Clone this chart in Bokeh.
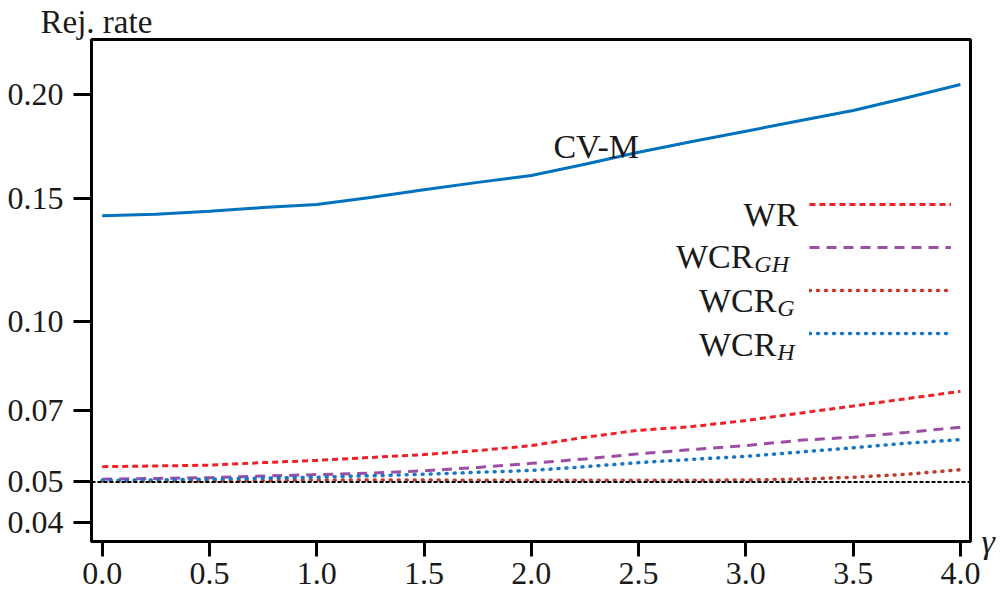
import numpy as np
from bokeh.plotting import figure
from bokeh.models import (Range1d, FixedTicker, CustomJSTickFormatter, PrintfTickFormatter,
                          Label, Legend, LegendItem, Span, LinearAxis)
from bokeh.embed import file_html
from bokeh.resources import INLINE

# ---------------- data ----------------
gamma = [0.0, 0.25, 0.5, 0.75, 1.0, 1.25, 1.5, 1.75, 2.0, 2.25, 2.5, 2.75, 3.0, 3.25, 3.5, 3.75, 4.0]
cvm = [0.1423, 0.1430, 0.1443, 0.1459, 0.1472, 0.1504, 0.1538, 0.1572, 0.1604, 0.1656,
       0.1713, 0.1765, 0.1815, 0.1867, 0.1918, 0.1983, 0.2052]
wr = [0.0540, 0.0542, 0.0544, 0.0551, 0.0557, 0.0565, 0.0573, 0.0584, 0.0598, 0.0622,
      0.0642, 0.0653, 0.0671, 0.0693, 0.0715, 0.0738, 0.0761]
wcr_gh = [0.0507, 0.0509, 0.0511, 0.0515, 0.0519, 0.0523, 0.0529, 0.0538, 0.0549, 0.0561,
          0.0575, 0.0587, 0.0598, 0.0613, 0.0622, 0.0636, 0.0651]
wcr_g = [0.0502, 0.0502, 0.0502, 0.0503, 0.0505, 0.0505, 0.0505, 0.0504, 0.0504, 0.0504,
         0.0504, 0.0504, 0.0505, 0.0507, 0.0512, 0.0520, 0.0532]
wcr_h = [0.0504, 0.0505, 0.0507, 0.0510, 0.0512, 0.0516, 0.0520, 0.0525, 0.0530, 0.0540,
         0.0551, 0.0560, 0.0568, 0.0580, 0.0592, 0.0605, 0.0615]
nominal = 0.05
ytick_values = [0.04, 0.05, 0.07, 0.10, 0.15, 0.20]
xtick_values = [0.0, 0.5, 1.0, 1.5, 2.0, 2.5, 3.0, 3.5, 4.0]


def tr(v):
    """square-root scale used by the reference y axis"""
    return np.sqrt(np.asarray(v, dtype=float))


# helpers converting reference pixel positions (annotations only) to data coords
def ax(px):
    return (px - 101.7) / 214.6


def ay(py):
    return 0.44721 - (py - 94.0) / 1732.5


FONT = "Liberation Serif"
TXT = "#1a1a1a"

p = figure(frame_width=879, frame_height=502,
           min_border_left=91, min_border_right=32, min_border_top=39, min_border_bottom=51,
           x_range=Range1d(-0.05, 4.047), y_range=Range1d(0.18920, 0.47896),
           output_backend="svg", toolbar_location=None,
           background_fill_color="white", border_fill_color="white")
p.grid.visible = False
p.outline_line_color = "black"
p.outline_line_width = 3
p.outline_line_alpha = 1

# y-axis title written at the top-left, as in the reference
p.title.text = "Rej. rate"
p.title.align = "left"
p.title.offset = -51
p.title.standoff = 0
p.title.text_font = FONT
p.title.text_font_size = "33px"
p.title.text_font_style = "normal"
p.title.text_color = TXT
p.title.vertical_align = "bottom"

# axes
for axis in (p.xaxis[0], p.yaxis[0]):
    axis.axis_line_color = None
    axis.major_tick_line_color = "black"
    axis.major_tick_line_width = 3
    axis.major_tick_in = 0
    axis.minor_tick_line_color = None
    axis.major_label_text_font = FONT
    axis.major_label_text_font_size = "32px"
    axis.major_label_text_color = TXT

p.xaxis.ticker = FixedTicker(ticks=xtick_values)
p.xaxis.formatter = PrintfTickFormatter(format="%.1f")
p.xaxis.major_tick_out = 15
p.xaxis.major_label_standoff = 6

p.yaxis.ticker = FixedTicker(ticks=list(tr(ytick_values)))
p.yaxis.formatter = CustomJSTickFormatter(code="return (tick*tick).toFixed(2);")
p.yaxis.major_tick_out = 18
p.yaxis.major_label_standoff = 10

# x-axis name (gamma) at the right end of the axis, via a tick-less right axis
gax = LinearAxis(ticker=FixedTicker(ticks=[]), axis_label="γ",
                 axis_label_orientation="horizontal", axis_label_align="start",
                 axis_label_standoff=11, axis_line_color=None, major_tick_line_color=None,
                 minor_tick_line_color=None, major_label_text_font_size="1px",
                 axis_label_text_font=FONT, axis_label_text_font_size="34px",
                 axis_label_text_font_style="italic", axis_label_text_color=TXT)
p.add_layout(gax, "right")

# series
r_cvm = p.line(gamma, tr(cvm), line_color="#0072bd", line_width=3)
r_wr = p.line(gamma, tr(wr), line_color="#ee2028", line_width=3, line_dash="6 4")
r_gh = p.line(gamma, tr(wcr_gh), line_color="#9b4ea3", line_width=3, line_dash="10 7")
r_g = p.line(gamma, tr(wcr_g), line_color="#c0392b", line_width=3.5, line_dash="1 7",
             line_cap="round")
r_h = p.line(gamma, tr(wcr_h), line_color="#1677c6", line_width=3.5, line_dash="1 7",
             line_cap="round")

p.add_layout(Span(location=float(tr(nominal)), dimension="width", line_color="black",
                  line_width=2, line_dash="4 2"))

# legend (lines only; text labels are placed to the left like the reference)
legend = Legend(items=[LegendItem(label=" ", renderers=[r]) for r in (r_wr, r_gh, r_g, r_h)],
                location=(718, 198), orientation="vertical",
                glyph_width=142, glyph_height=20, spacing=23, padding=0, margin=0,
                label_text_font_size="1px", label_standoff=0, label_width=0, label_height=1,
                border_line_alpha=0, background_fill_alpha=0)
p.add_layout(legend)


def lab(text, x, y, size="34px", align="left", style="normal"):
    p.add_layout(Label(x=x, y=y, text=text, text_font=FONT, text_font_size=size,
                       text_color=TXT, text_align=align, text_baseline="alphabetic",
                       text_font_style=style))


lab("CV-M", ax(553), ay(146))

lab("WR", ax(798), ay(214), align="right")
lab("WCR", ax(753), ay(256), align="right")
lab("GH", ax(754), ay(263), size="24px", style="italic")
lab("WCR", ax(776), ay(299.5), align="right")
lab("G", ax(777), ay(307), size="24px", style="italic")
lab("WCR", ax(776), ay(344), align="right")
lab("H", ax(777), ay(351), size="24px", style="italic")

open("out.html", "w").write(file_html(p, INLINE))
